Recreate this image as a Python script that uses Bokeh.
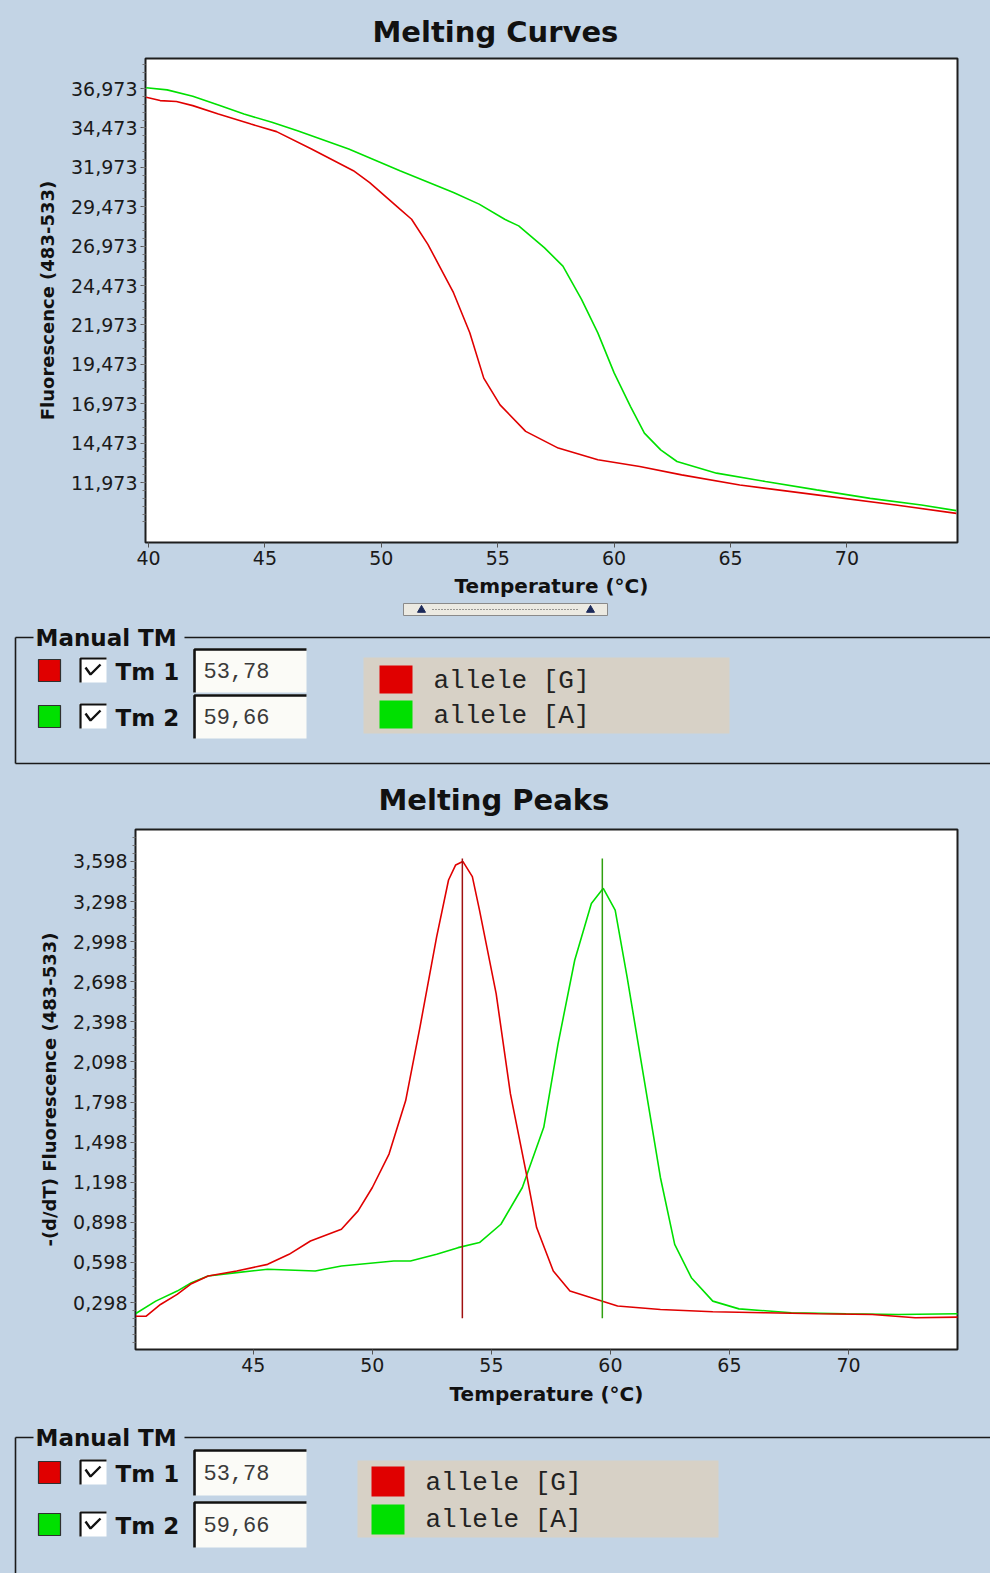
from bokeh.plotting import figure
from bokeh.models import Range1d, FixedTicker, CustomJSTickFormatter
from bokeh.embed import file_html
from bokeh.resources import INLINE
from bokeh.core.properties import value

# ---------------- data ----------------
# Melting curves: fluorescence (483-533) vs temperature
melt_temp_g = [39.9, 40.5, 41.2, 41.9, 43.0, 44.4, 45.5, 47.0, 48.8, 49.5, 50.8, 51.3,
               52.0, 53.1, 53.8, 54.4, 55.1, 56.2, 57.6, 59.3, 61.1, 62.9, 65.4, 68.7,
               72.1, 74.7]
melt_fluo_g = [36.42, 36.21, 36.15, 35.89, 35.36, 34.72, 34.24, 33.14, 31.76, 31.01, 29.32,
               28.68, 27.09, 24.02, 21.48, 18.60, 16.90, 15.22, 14.16, 13.42, 12.99, 12.46,
               11.82, 11.19, 10.55, 10.02]
melt_temp_a = [39.9, 40.8, 41.9, 43.0, 44.1, 45.3, 46.4, 48.6, 50.8, 53.1, 54.2, 55.3, 55.9,
               57.0, 57.8, 58.6, 59.3, 60.0, 60.7, 61.3, 62.0, 62.7, 64.4, 66.5, 68.7, 71.0,
               73.2, 74.7]
melt_fluo_a = [37.02, 36.89, 36.49, 35.93, 35.36, 34.83, 34.30, 33.14, 31.76, 30.38, 29.64,
               28.68, 28.26, 26.88, 25.71, 23.59, 21.47, 18.93, 16.81, 15.11, 14.05, 13.31,
               12.57, 12.04, 11.51, 10.97, 10.55, 10.19]

# Melting peaks: -(d/dT) fluorescence vs temperature
peak_temp_g = [40.0, 40.5, 41.1, 41.8, 42.4, 43.1, 44.3, 45.6, 46.5, 47.4, 48.7, 49.4, 50.0,
               50.7, 51.4, 52.0, 52.7, 53.2, 53.5, 53.8, 54.2, 54.5, 55.2, 55.8, 56.5, 56.9,
               57.6, 58.3, 59.2, 60.3, 62.1, 64.3, 66.5, 68.7, 71.0, 72.8, 74.6]
peak_val_g = [0.196, 0.196, 0.284, 0.359, 0.439, 0.497, 0.534, 0.584, 0.659, 0.759, 0.847,
              0.984, 1.159, 1.409, 1.809, 2.359, 3.034, 3.459, 3.572, 3.598, 3.484, 3.234,
              2.609, 1.859, 1.234, 0.859, 0.534, 0.384, 0.334, 0.272, 0.246, 0.229, 0.222,
              0.214, 0.209, 0.184, 0.189]
peak_temp_a = [40.0, 40.9, 41.8, 42.4, 43.1, 44.3, 45.6, 47.6, 48.7, 50.9, 51.6, 52.7, 53.6,
               54.5, 55.4, 56.3, 57.2, 57.8, 58.5, 59.2, 59.7, 60.2, 60.7, 61.4, 62.1, 62.7,
               63.4, 64.3, 65.4, 67.6, 69.9, 72.1, 74.6]
peak_val_a = [0.209, 0.309, 0.384, 0.446, 0.497, 0.522, 0.547, 0.534, 0.572, 0.609, 0.609,
              0.659, 0.709, 0.747, 0.884, 1.159, 1.609, 2.234, 2.859, 3.284, 3.397, 3.234,
              2.734, 1.984, 1.234, 0.734, 0.484, 0.309, 0.251, 0.222, 0.214, 0.209, 0.214]

tm_values = [53.78, 59.66]
tm_labels = ["53,78", "59,66"]
tm_names = ["Tm 1", "Tm 2"]
tm_line_span = [0.18, 3.62]
allele_names = ["allele [G]", "allele [A]"]
series_colors = ["#E00000", "#00E000"]
tm_line_colors = ["#A01010", "#30A010"]

curve_yticks = [11.973, 14.473, 16.973, 19.473, 21.973, 24.473, 26.973, 29.473, 31.973,
                34.473, 36.973]
peak_yticks = [0.298, 0.598, 0.898, 1.198, 1.498, 1.798, 2.098, 2.398, 2.698, 2.998,
               3.298, 3.598]
curve_xticks = [40, 45, 50, 55, 60, 65, 70]
peak_xticks = [45, 50, 55, 60, 65, 70]

BG = "#C3D4E5"
FONT = "DejaVu Sans"
MONO = "Liberation Mono"


def minor_list(ticks, n=5):
    step = (ticks[1] - ticks[0]) / n
    out = []
    t = ticks[0] - step * n
    while t < ticks[-1] + step * n:
        out.append(round(t, 4))
        t += step
    return out


def make_chart(title, ylabel, xr, yr, xticks, yticks, h, left, right, top, bottom,
               toff, tstand, xlab_standoff):
    p = figure(width=990, height=h, x_range=Range1d(*xr), y_range=Range1d(*yr),
               output_backend="svg", toolbar_location=None,
               min_border_left=left, min_border_right=right,
               min_border_top=top, min_border_bottom=bottom)
    p.background_fill_color = "white"
    p.border_fill_color = BG
    p.outline_line_color = "#1e1e1e"
    p.outline_line_width = 2
    p.grid.visible = False
    p.title.text = title
    p.title.text_font = FONT
    p.title.text_font_style = "bold"
    p.title.text_font_size = "29px"
    p.title.text_color = "#111111"
    p.title.align = "left"
    p.title.offset = toff
    p.title.standoff = tstand
    p.xaxis.axis_label = "Temperature (\u00b0C)"
    p.yaxis.axis_label = ylabel
    for ax in (p.xaxis[0], p.yaxis[0]):
        ax.axis_label_text_font = FONT
        ax.axis_label_text_font_style = "bold"
        ax.axis_label_text_font_size = "18px"
        ax.axis_label_text_color = "#111111"
        ax.major_label_text_font = FONT
        ax.major_label_text_font_size = "19px"
        ax.major_label_text_color = "#1a1a1a"
        ax.axis_line_color = "#1e1e1e"
        ax.major_tick_line_color = "#555555"
        ax.minor_tick_line_color = "#777777"
        ax.major_tick_in = 0
        ax.major_tick_out = 5
        ax.minor_tick_in = 0
        ax.minor_tick_out = 3
        ax.major_label_standoff = 3
    p.xaxis.axis_label_text_font_size = "20px"
    p.xaxis.ticker = FixedTicker(ticks=xticks, minor_ticks=[])
    p.yaxis.ticker = FixedTicker(ticks=yticks, minor_ticks=minor_list(yticks))
    p.yaxis.formatter = CustomJSTickFormatter(code="return tick.toFixed(3).replace('.', ',');")
    p.xaxis.axis_label_standoff = xlab_standoff
    p.yaxis.axis_label_standoff = 10
    return p


# ---------------- top chart: melting curves (page rows 0-600) ----------------
pA = make_chart("Melting Curves", "Fluorescence (483-533)", (39.87, 74.75), (8.17, 38.88),
                curve_xticks, curve_yticks, 600, 145, 33, 58, 58, 227, 19, 6)
pA.line(melt_temp_a, melt_fluo_a, line_color=series_colors[1], line_width=1.6)
pA.line(melt_temp_g, melt_fluo_g, line_color=series_colors[0], line_width=1.6)

# ---------------- bottom chart: melting peaks (page rows 768-1410) ----------------
pB = make_chart("Melting Peaks", "-(d/dT) Fluorescence (483-533)", (40.05, 74.58),
                (-0.053, 3.837), peak_xticks, peak_yticks, 642, 135, 33, 60, 61, 243, 25, 7)
pB.line(peak_temp_a, peak_val_a, line_color=series_colors[1], line_width=1.6)
pB.line(peak_temp_g, peak_val_g, line_color=series_colors[0], line_width=1.6)
pB.segment(x0=tm_values, y0=[tm_line_span[0]] * 2, x1=tm_values, y1=[tm_line_span[1]] * 2,
           line_color=tm_line_colors, line_width=1.5)


# ---------------- "Manual TM" panels ----------------
def make_panel(y_top, y_bot):
    q = figure(width=990, height=y_bot - y_top, x_range=Range1d(0, 990),
               y_range=Range1d(y_bot, y_top), output_backend="svg", toolbar_location=None,
               x_axis_location=None, y_axis_location=None, min_border=0)
    q.grid.visible = False
    q.outline_line_color = None
    q.background_fill_color = BG
    q.border_fill_color = BG
    return q


def draw_manual_tm(q, line_y, rows, tb_half, bottom_line, legend_box, leg_sq, leg_text, leg_x):
    # group frame
    q.segment(x0=[15, 184], y0=[line_y, line_y], x1=[33, 990], y1=[line_y, line_y],
              line_color="#1a1a1a", line_width=1.6)
    yb = bottom_line if bottom_line is not None else q.y_range.start
    q.segment(x0=[15], y0=[line_y], x1=[15], y1=[yb], line_color="#1a1a1a", line_width=1.6)
    if bottom_line is not None:
        q.segment(x0=[15], y0=[bottom_line], x1=[990], y1=[bottom_line],
                  line_color="#1a1a1a", line_width=1.6)
    q.text(x=[35], y=[line_y], text=["Manual TM"], text_font=value(FONT),
           text_font_style="bold", text_font_size="23px", text_baseline="middle",
           text_color="#111111")
    for i, yc in enumerate(rows):
        # colour swatch
        q.quad(left=38, right=60, top=yc - 11, bottom=yc + 11, fill_color=series_colors[i],
               line_color="#303030", line_width=1.2)
        # checkbox
        q.quad(left=79, right=106, top=yc - 13, bottom=yc + 12, fill_color="white",
               line_color=None)
        q.line(x=[80, 80, 106], y=[yc + 12, yc - 12, yc - 12], line_color="#111111",
               line_width=2.2)
        q.line(x=[85, 90, 100], y=[yc - 3, yc + 4, yc - 6], line_color="#111111",
               line_width=2.4)
        q.text(x=[115], y=[yc + 1], text=[tm_names[i]], text_font=value(FONT),
               text_font_style="bold", text_font_size="23px", text_baseline="middle",
               text_color="#111111")
        # text box
        q.quad(left=193, right=306, top=yc - tb_half, bottom=yc + tb_half,
               fill_color="#FBFBF7", line_color=None)
        q.line(x=[194, 194, 306], y=[yc + tb_half, yc - tb_half + 1, yc - tb_half + 1],
               line_color="#111111", line_width=2.6)
        q.text(x=[203], y=[yc], text=[tm_labels[i]], text_font=value(MONO),
               text_font_size="22px", text_baseline="middle", text_color="#3a3a3a")
    # legend
    q.quad(left=legend_box[0], right=legend_box[1], top=legend_box[2], bottom=legend_box[3],
           fill_color="#D7D1C6", line_color=None)
    for i in range(2):
        q.quad(left=leg_x, right=leg_x + 33, top=leg_sq[i][0], bottom=leg_sq[i][1],
               fill_color=series_colors[i], line_color=None)
        q.text(x=[leg_x + 54], y=[leg_text[i]], text=[allele_names[i]], text_font=value(MONO),
               text_font_size="26px", text_baseline="middle", text_color="#222222")


qA = make_panel(600, 768)
# slider widget under the top chart
qA.quad(left=403, right=607, top=603, bottom=615, fill_color="#ECEAE2", line_color="#8A8A8A")
qA.segment(x0=[432], y0=[609], x1=[578], y1=[609], line_color="#444444", line_dash="1 2",
           line_width=1.2)
qA.scatter(x=[421, 590], y=[609.5, 609.5], marker="triangle", size=8, fill_color="#1C2A5A",
           line_color="#1C2A5A")
draw_manual_tm(qA, 637, [670, 716], 22, 763, (363, 729, 657, 733),
               [(665, 693), (700, 728)], [680, 715], 379)

qB = make_panel(1410, 1573)
draw_manual_tm(qB, 1437, [1472, 1524], 23, None, (357, 718, 1460, 1537),
               [(1466, 1496), (1504, 1534)], [1482, 1519], 371)

# separate roots so that Bokeh does not align the frames of the stacked figures
html = file_html([pA, qA, pB, qB], INLINE)
html = html.replace("</head>",
                    "<style>html,body{margin:0;padding:0;background:%s;}</style></head>" % BG, 1)
open("out.html", "w").write(html)
